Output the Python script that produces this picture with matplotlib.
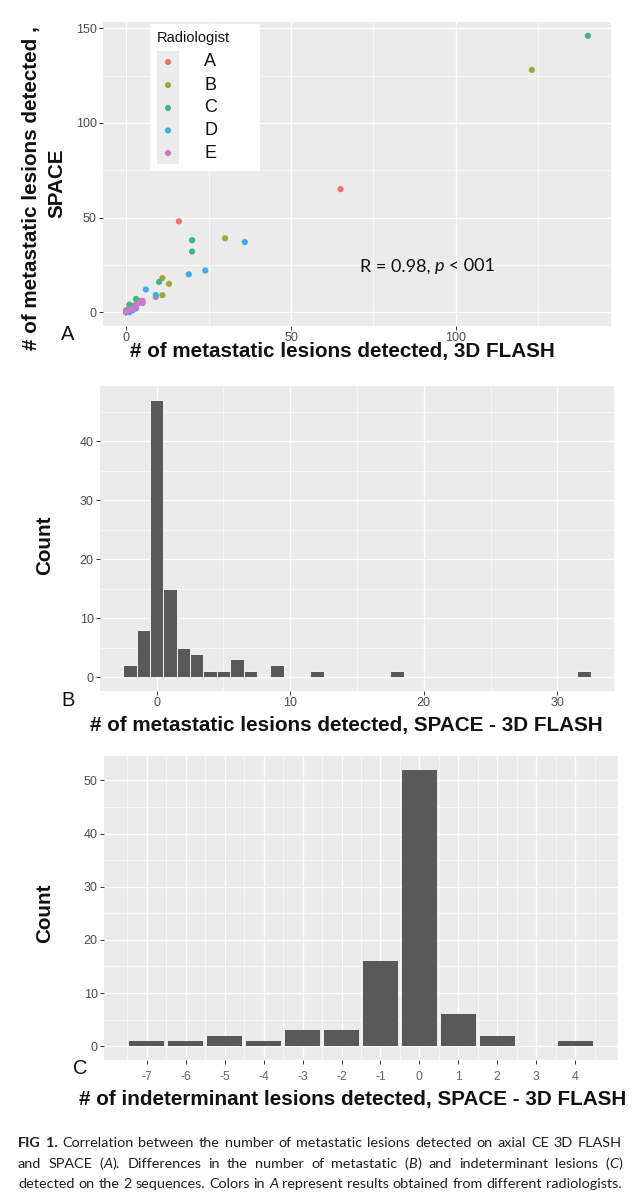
import re
import matplotlib
matplotlib.use("Agg")
import matplotlib.pyplot as plt
from matplotlib.patches import Rectangle
import numpy as np

plt.rcParams['font.family'] = ['Liberation Sans', 'DejaVu Sans']
plt.rcParams['axes.unicode_minus'] = False

# ---------------- data ----------------
radiologists = ['A', 'B', 'C', 'D', 'E']
rad_colors = ['#EE736C', '#A5A53A', '#3DB780', '#3BADE8', '#CF77CF']

flash_A = [65, 16, 9, 2, 0, 0, 1, 3, 0]
space_A = [65, 48, 8, 3, 0, 1, 1, 4, 0]
flash_B = [123, 30, 11, 13, 11, 4, 3, 1, 0]
space_B = [128, 39, 18, 15, 9, 6, 4, 1, 0]
flash_C = [140, 20, 20, 10, 3, 1, 1, 2, 4, 0]
space_C = [146, 38, 32, 16, 7, 4, 2, 3, 5, 0]
flash_D = [36, 24, 19, 6, 9, 2, 1, 3, 0, 5]
space_D = [37, 22, 20, 12, 9, 1, 0, 2, 0, 5]
flash_E = [5, 5, 4, 3, 2, 0, 1]
space_E = [6, 5, 5, 3, 2, 0, 1]
flash_all = [flash_A, flash_B, flash_C, flash_D, flash_E]
space_all = [space_A, space_B, space_C, space_D, space_E]

diff_values = [-2, -1, 0, 1, 2, 3, 4, 5, 6, 7, 9, 12, 18, 32]
diff_counts = [2, 8, 47, 15, 5, 4, 1, 1, 3, 1, 2, 1, 1, 1]

indet_values = [-7, -6, -5, -4, -3, -2, -1, 0, 1, 2, 3, 4]
indet_counts = [1, 1, 2, 1, 3, 3, 16, 52, 6, 2, 0, 1]

xlabel_A = "# of metastatic lesions detected, 3D FLASH"
ylabel_A1 = "# of metastatic lesions detected ,"
ylabel_A2 = "SPACE"
xlabel_B = "# of metastatic lesions detected, SPACE - 3D FLASH"
xlabel_C = "# of indeterminant lesions detected, SPACE - 3D FLASH"

caption_lines = [
    "**FIG** **1.** Correlation between the number of metastatic lesions detected on axial CE 3D FLASH",
    "and SPACE (*A*). Differences in the number of metastatic (*B*) and indeterminant lesions (*C*)",
    "detected on the 2 sequences. Colors in *A* represent results obtained from different radiologists.",
]

# ---------------- figure ----------------
W, H = 638, 1199
fig = plt.figure(figsize=(W / 100, H / 100), dpi=100)
fig.patch.set_facecolor('white')


def px_axes(x0, y0, x1, y1):
    return fig.add_axes([x0 / W, 1 - y1 / H, (x1 - x0) / W, (y1 - y0) / H])


def style(ax):
    ax.set_facecolor('#EBEBEB')
    for s in ax.spines.values():
        s.set_visible(False)
    ax.set_axisbelow(True)
    ax.grid(which='major', color='white', lw=0.95)
    ax.grid(which='minor', color='white', lw=0.45)
    ax.tick_params(which='major', length=2.6, width=0.7, color='#333333',
                   labelsize=9, labelcolor='#4D4D4D', pad=2)
    ax.tick_params(which='minor', length=0)


# ---- Panel A ----
A_x0, A_y0, A_x1, A_y1 = 103, 22, 611, 326
axA = px_axes(A_x0, A_y0, A_x1, A_y1)
style(axA)
for fx, sy, c in zip(flash_all, space_all, rad_colors):
    axA.scatter(fx, sy, s=20, color=c, edgecolors='none', zorder=3)
axA.set_xlim(-7, 147)
axA.set_ylim(-7.3, 153.3)
axA.set_xticks([0, 50, 100])
axA.set_xticks([25, 75, 125], minor=True)
axA.set_yticks([0, 50, 100, 150])
axA.set_yticks([25, 75, 125], minor=True)


def afx(px):
    return (px - A_x0) / (A_x1 - A_x0)


def afy(py):
    return (A_y1 - py) / (A_y1 - A_y0)


# legend (ggplot-style, drawn in axes-fraction coordinates)
axA.add_patch(Rectangle((afx(150), afy(171)), afx(260) - afx(150), afy(24) - afy(171),
                        transform=axA.transAxes, facecolor='white', edgecolor='none', zorder=5))
axA.add_patch(Rectangle((afx(157), afy(164)), afx(179) - afx(157), afy(51) - afy(164),
                        transform=axA.transAxes, facecolor='#EBEBEB', edgecolor='none', zorder=6))
axA.text(afx(157), afy(38), "Radiologist", transform=axA.transAxes, fontsize=10.5,
         ha='left', va='center', color='#111111', zorder=7)
key_y = [62, 85, 108, 130.5, 153]
for name, c, ky in zip(radiologists, rad_colors, key_y):
    axA.scatter([afx(168)], [afy(ky)], s=20, color=c, edgecolors='none',
                transform=axA.transAxes, zorder=7, clip_on=False)
    axA.text(afx(204), afy(ky), name, transform=axA.transAxes, fontsize=13,
             ha='left', va='center', color='#111111', zorder=7)

rfont = ['Lato', 'DejaVu Sans']
t1 = axA.text(70.8, 24.2, "R = 0.98, ", fontsize=13, family=rfont,
              ha='left', va='center', color='#111111')
t2 = axA.annotate("p", xy=(1, 0), xycoords=t1, va='bottom', ha='left', fontsize=13,
                  family=rfont, fontstyle='italic', color='#111111')
t3 = axA.annotate(" < 001", xy=(1, 0), xycoords=t2, va='bottom', ha='left', fontsize=13,
                  family=rfont, color='#111111')

# ---- Panel B ----
axB = px_axes(100, 386, 614, 691)
style(axB)
axB.bar(diff_values, diff_counts, width=1.0, color='#595959', edgecolor='white', lw=0.6, zorder=3)
axB.set_xlim(-4.25, 34.25)
axB.set_ylim(-2.35, 49.35)
axB.set_xticks([0, 10, 20, 30])
axB.set_xticks([5, 15, 25], minor=True)
axB.set_yticks([0, 10, 20, 30, 40])
axB.set_yticks([5, 15, 25, 35, 45], minor=True)

# ---- Panel C ----
axC = px_axes(104, 756, 618, 1060)
style(axC)
axC.bar(indet_values, indet_counts, width=0.9, color='#595959', zorder=3)
axC.set_xlim(-8.1, 5.1)
axC.set_ylim(-2.6, 54.6)
axC.set_xticks(indet_values)
axC.set_xticks(np.arange(-7.5, 5.0, 1.0), minor=True)
axC.set_yticks([0, 10, 20, 30, 40, 50])
axC.set_yticks([5, 15, 25, 35, 45], minor=True)
axC.tick_params(axis='x', labelsize=8.8, labelcolor='#666666', pad=5)

# ---- axis titles and panel letters ----
lab = dict(fontsize=14.9, fontweight='bold', color='#111111')
fig.text(342 / W, 1 - 352 / H, xlabel_A, ha='center', va='center', **lab)
fig.text(32 / W, 1 - 188 / H, ylabel_A1, ha='center', va='center', rotation=90, **lab)
fig.text(57 / W, 1 - 183 / H, ylabel_A2, ha='center', va='center', rotation=90, **lab)
fig.text(346 / W, 1 - 725 / H, xlabel_B, ha='center', va='center', **lab)
fig.text(45 / W, 1 - 545 / H, "Count", ha='center', va='center', rotation=90, **lab)
fig.text(353 / W, 1 - 1099 / H, xlabel_C, ha='center', va='center', **lab)
fig.text(45 / W, 1 - 913 / H, "Count", ha='center', va='center', rotation=90, **lab)

let = dict(fontsize=14.5, color='#111111', ha='center', va='center')
fig.text(68 / W, 1 - 334 / H, "A", **let)
fig.text(68 / W, 1 - 700 / H, "B", **let)
fig.text(80 / W, 1 - 1068 / H, "C", **let)

# ---- caption (justified) ----
renderer = fig.canvas.get_renderer()
cap_font = ['Lato', 'DejaVu Sans']
x_left, x_right = 18, 622
line_y = [1143, 1164, 1184]


def parse_word(w):
    runs = []
    for part in re.split(r'(\*\*.+?\*\*|\*.+?\*)', w):
        if not part:
            continue
        if part.startswith('**'):
            runs.append((part[2:-2], 'bold', 'normal'))
        elif part.startswith('*'):
            runs.append((part[1:-1], 'normal', 'italic'))
        else:
            runs.append((part, 'normal', 'normal'))
    return runs


def measure(txt, size, wt='normal', st='normal'):
    t = fig.text(0, 0, txt, fontsize=size, family=cap_font, fontweight=wt, fontstyle=st)
    w = t.get_window_extent(renderer).width
    t.remove()
    return w


# choose the size at which the widest line fits with ordinary word spacing
ref_size = 10.0
space_w = measure("a a", ref_size) - measure("aa", ref_size)
fits = []
for line in caption_lines:
    words = [parse_word(w) for w in line.split(' ')]
    tot = sum(measure(txt, ref_size, wt, st) for runs in words for txt, wt, st in runs)
    fits.append(ref_size * (x_right - x_left) / (tot + (len(words) - 1) * space_w))
cap_size = min(fits)

for line, yy in zip(caption_lines, line_y):
    words = [parse_word(w) for w in line.split(' ')]
    word_items = []
    total = 0
    for runs in words:
        items = []
        for txt, wt, st in runs:
            t = fig.text(0, 1 - yy / H, txt, fontsize=cap_size, family=cap_font,
                         fontweight=wt, fontstyle=st, color='#231F20', ha='left', va='center')
            bw = t.get_window_extent(renderer).width
            items.append((t, bw))
            total += bw
        word_items.append(items)
    gap = (x_right - x_left - total) / (len(word_items) - 1)
    x = x_left
    for items in word_items:
        for t, bw in items:
            t.set_x(x / W)
            x += bw
        x += gap

fig.savefig("out.png", dpi=100, facecolor='white')
